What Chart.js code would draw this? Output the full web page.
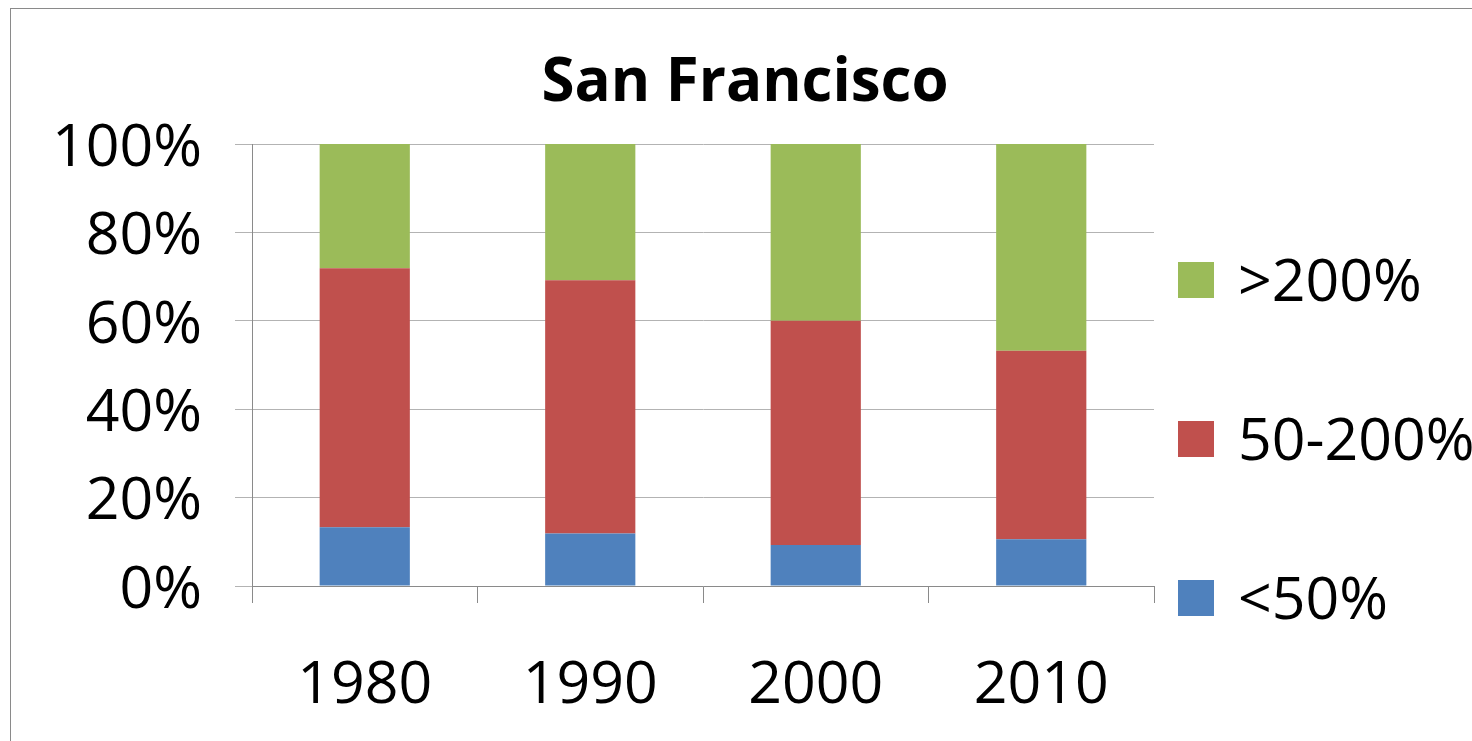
<!DOCTYPE html>
<html>
<head>
<meta charset="utf-8">
<title>San Francisco</title>
<script src="https://cdn.jsdelivr.net/npm/chart.js@4"></script>
<style>
  html, body { margin: 0; padding: 0; background: #fff; overflow: hidden; }
  #wrap { position: relative; width: 1472px; height: 741px; overflow: hidden; }
  #frame { position: absolute; left: 10px; top: 8px; width: 1500px; height: 800px; border: 1px solid #8a8a8a; }
  canvas { position: absolute; left: 0; top: 0; }
</style>
</head>
<body>
<div id="wrap">
  <div id="frame"></div>
  <canvas id="chart" width="1472" height="741"></canvas>
</div>
<script>
const years = ["1980", "1990", "2000", "2010"];
const under50 = [13.3, 11.9, 9.3, 10.6];
const from50to200 = [58.6, 57.3, 50.7, 42.6];
const over200 = [28.1, 30.8, 40.0, 46.8];
const seriesNames = ["<50%", "50-200%", ">200%"];
const yTicks = [0, 20, 40, 60, 80, 100];

const FONT = "'Open Sans', 'Liberation Sans', sans-serif";

// title + legend drawn by hand, Excel style
const decorations = {
  id: "decorations",
  afterDraw(chart) {
    const ctx = chart.ctx;
    ctx.save();
    ctx.fillStyle = "#000";
    ctx.font = "bold 60px " + FONT;
    ctx.textAlign = "center";
    ctx.textBaseline = "middle";
    ctx.fillText("San Francisco", 745, 84);

    const items = chart.data.datasets.slice().reverse();
    const x = chart.chartArea.right + 24;
    items.forEach((ds, i) => {
      const cy = 280 + i * 159;
      ctx.fillStyle = ds.backgroundColor;
      ctx.fillRect(x, cy - 18, 36, 36);
      ctx.fillStyle = "#000";
      ctx.font = "59px " + FONT;
      ctx.textAlign = "left";
      ctx.fillText(ds.label, x + 60, cy + 4);
    });
    ctx.restore();
  }
};

new Chart(document.getElementById("chart"), {
  type: "bar",
  data: {
    labels: years,
    datasets: [
      { label: seriesNames[0], data: under50, backgroundColor: "#4f81bd" },
      { label: seriesNames[1], data: from50to200, backgroundColor: "#c0504d" },
      { label: seriesNames[2], data: over200, backgroundColor: "#9bbb59" }
    ]
  },
  options: {
    responsive: false,
    animation: false,
    layout: { padding: { top: 144, right: 318, left: 0, bottom: 0 } },
    datasets: { bar: { barPercentage: 0.4, categoryPercentage: 1.0 } },
    plugins: {
      legend: { display: false },
      title: { display: false },
      tooltip: { enabled: false }
    },
    scales: {
      x: {
        stacked: true,
        offset: true,
        afterFit: (s) => { s.height = 155; },
        grid: {
          offset: true,
          drawOnChartArea: false,
          drawTicks: true,
          tickLength: 17,
          color: "#8a8a8a"
        },
        border: { color: "#8a8a8a", width: 1 },
        ticks: {
          color: "#000",
          font: { family: FONT, size: 59 },
          padding: 48
        }
      },
      y: {
        stacked: true,
        min: 0,
        max: 100,
        afterFit: (s) => { s.width = 252; },
        afterBuildTicks: (s) => { s.ticks = yTicks.map(v => ({ value: v })); },
        grid: {
          color: "#b3b3b3",
          tickLength: 17,
          drawTicks: true
        },
        border: { color: "#8a8a8a", width: 1 },
        ticks: {
          color: "#000",
          font: { family: FONT, size: 59 },
          padding: 33,
          labelOffset: 5,
          callback: (v) => v + "%"
        }
      }
    }
  },
  plugins: [decorations]
});
</script>
</body>
</html>
